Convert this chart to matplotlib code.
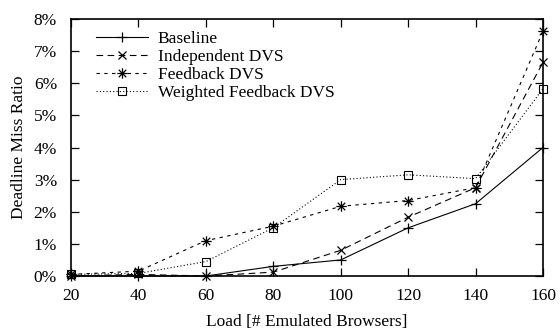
import matplotlib
matplotlib.use("Agg")
import matplotlib.pyplot as plt
from matplotlib.path import Path
from matplotlib.ticker import FuncFormatter

loads = [20, 40, 60, 80, 100, 120, 140, 160]
baseline = [0.0, 0.0, 0.0, 0.3, 0.5, 1.5, 2.25, 4.0]
independent = [0.0, 0.05, 0.0, 0.12, 0.8, 1.83, 2.75, 6.65]
feedback = [0.05, 0.15, 1.1, 1.55, 2.17, 2.35, 2.75, 7.62]
weighted = [0.05, 0.08, 0.45, 1.5, 3.0, 3.15, 3.03, 5.83]
labels = ["Baseline", "Independent DVS", "Feedback DVS", "Weighted Feedback DVS"]
xticks = [20, 40, 60, 80, 100, 120, 140, 160]
yticks = [0, 1, 2, 3, 4, 5, 6, 7, 8]

plt.rcParams["font.family"] = ["Liberation Serif", "DejaVu Serif"]
plt.rcParams["font.size"] = 12.5

# asterisk marker: plus and cross overlaid
star_path = Path(
    [(-1, 0), (1, 0), (0, -1), (0, 1), (-0.72, -0.72), (0.72, 0.72), (-0.72, 0.72), (0.72, -0.72)],
    [Path.MOVETO, Path.LINETO] * 4,
)

fig = plt.figure(figsize=(5.6, 3.31), dpi=100)
ax = fig.add_axes([71 / 560, 55 / 331, (543 - 71) / 560, (276 - 19) / 331])

lw = 0.8
ax.plot(loads, baseline, color="black", lw=lw, ls="-", marker="+", ms=7.5, mew=0.9,
        label=labels[0], clip_on=False)
ax.plot(loads, independent, color="black", lw=lw, ls=(0, (6, 4)), marker="x", ms=6, mew=0.9,
        label=labels[1], clip_on=False)
ax.plot(loads, feedback, color="black", lw=lw, ls=(0, (3, 4)), marker=star_path, ms=7.5, mew=0.9,
        mfc="none", label=labels[2], clip_on=False)
ax.plot(loads, weighted, color="black", lw=lw, ls=(0, (1, 2)), marker="s", ms=5.5, mew=0.8,
        mfc="none", label=labels[3], clip_on=False)

ax.set_xlim(20, 160)
ax.set_ylim(0, 8)
ax.set_xticks(xticks)
ax.set_yticks(yticks)
ax.yaxis.set_major_formatter(FuncFormatter(lambda v, p: f"{v:.0f}%"))
ax.tick_params(direction="in", length=6, width=0.9, top=True, right=True)
ax.tick_params(axis="x", pad=9)
ax.tick_params(axis="y", pad=10)
for s in ax.spines.values():
    s.set_linewidth(1.2)

ax.set_xlabel("Load [# Emulated Browsers]", labelpad=7)
ax.set_ylabel("Deadline Miss Ratio", labelpad=5)

leg = ax.legend(loc="upper left", frameon=False, handlelength=3.0, handletextpad=0.55,
                labelspacing=0.1, borderaxespad=0.3, numpoints=1,
                bbox_to_anchor=(0.027, 1.0))

fig.savefig("out.png", dpi=100)
